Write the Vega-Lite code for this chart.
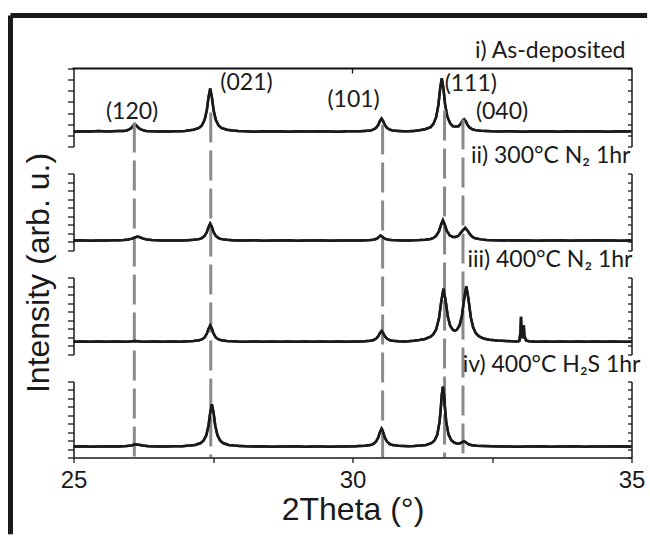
{
  "$schema": "https://vega.github.io/schema/vega-lite/v6.json",
  "background": "white",
  "padding": {"left": 7.5, "top": 12.5, "right": 0, "bottom": 0},
  "bounds": "flush",
  "spacing": 27,
  "config": {
    "view": {"stroke": null},
    "axis": {"domainColor": "#1a1a1a", "tickColor": "#1a1a1a", "domainWidth": 1.5, "tickWidth": 1.3, "grid": false, "labelFont": "Liberation Sans", "titleFont": "Liberation Sans", "labelColor": "#1a1a1a", "titleColor": "#1a1a1a", "titleFontWeight": "normal"}
  },
  "datasets": {
    "p1": [
      {"t":25.0,"v":1.33},{"t":25.15,"v":1.37},{"t":25.3,"v":1.34},{"t":25.45,"v":1.38},{"t":25.6,"v":1.35},{"t":25.7,"v":1.36},{"t":25.8,"v":1.38},{"t":25.9,"v":1.40},{"t":25.95,"v":1.44},{"t":26.0,"v":1.53},{"t":26.04,"v":1.68},{"t":26.07,"v":1.87},{"t":26.1,"v":2.0},{"t":26.13,"v":1.87},{"t":26.16,"v":1.70},{"t":26.2,"v":1.55},{"t":26.25,"v":1.45},{"t":26.3,"v":1.40},{"t":26.4,"v":1.37},{"t":26.5,"v":1.35},{"t":26.6,"v":1.37},{"t":26.7,"v":1.34},{"t":26.8,"v":1.37},{"t":26.9,"v":1.36},{"t":27.0,"v":1.40},
      {"t":27.05,"v":1.43},{"t":27.15,"v":1.50},{"t":27.25,"v":1.66},{"t":27.3,"v":1.89},{"t":27.35,"v":2.39},{"t":27.39,"v":3.28},{"t":27.42,"v":4.43},{"t":27.45,"v":5.2},{"t":27.48,"v":4.43},{"t":27.51,"v":3.28},{"t":27.55,"v":2.39},{"t":27.6,"v":1.89},{"t":27.65,"v":1.66},{"t":27.75,"v":1.50},{"t":27.85,"v":1.43},{"t":27.95,"v":1.39},
      {"t":28.1,"v":1.36},{"t":28.25,"v":1.33},{"t":28.4,"v":1.37},{"t":28.55,"v":1.34},{"t":28.7,"v":1.36},{"t":28.85,"v":1.33},{"t":29.0,"v":1.37},{"t":29.15,"v":1.35},{"t":29.3,"v":1.34},{"t":29.45,"v":1.37},{"t":29.6,"v":1.35},{"t":29.75,"v":1.33},{"t":29.9,"v":1.37},{"t":30.05,"v":1.36},
      {"t":30.12,"v":1.37},{"t":30.22,"v":1.40},{"t":30.32,"v":1.44},{"t":30.37,"v":1.51},{"t":30.42,"v":1.66},{"t":30.46,"v":1.93},{"t":30.49,"v":2.27},{"t":30.52,"v":2.5},{"t":30.55,"v":2.27},{"t":30.58,"v":1.93},{"t":30.62,"v":1.66},{"t":30.67,"v":1.51},{"t":30.72,"v":1.44},{"t":30.82,"v":1.40},{"t":30.92,"v":1.37},
      {"t":31.0,"v":1.36},{"t":31.1,"v":1.40},{"t":31.2,"v":1.45},{"t":31.3,"v":1.55},{"t":31.4,"v":1.74},{"t":31.45,"v":2.03},{"t":31.5,"v":2.65},{"t":31.54,"v":3.75},{"t":31.57,"v":5.17},{"t":31.6,"v":6.12},{"t":31.63,"v":5.18},{"t":31.66,"v":3.76},{"t":31.7,"v":2.67},{"t":31.75,"v":2.08},{"t":31.8,"v":1.81},{"t":31.85,"v":1.79},{"t":31.9,"v":1.82},{"t":31.94,"v":2.03},{"t":31.97,"v":2.31},{"t":32.0,"v":2.45},{"t":32.03,"v":2.27},{"t":32.06,"v":1.95},{"t":32.1,"v":1.69},{"t":32.15,"v":1.55},{"t":32.2,"v":1.47},{"t":32.3,"v":1.42},{"t":32.4,"v":1.39},
      {"t":32.5,"v":1.36},{"t":32.65,"v":1.34},{"t":32.8,"v":1.37},{"t":32.95,"v":1.35},{"t":33.1,"v":1.33},{"t":33.25,"v":1.37},{"t":33.4,"v":1.34},{"t":33.55,"v":1.36},{"t":33.7,"v":1.33},{"t":33.85,"v":1.37},{"t":34.0,"v":1.35},{"t":34.15,"v":1.34},{"t":34.3,"v":1.37},{"t":34.45,"v":1.35},{"t":34.6,"v":1.33},{"t":34.75,"v":1.36},{"t":34.9,"v":1.34},{"t":35.0,"v":1.36}
    ],
    "p2": [
      {"t":25.0,"v":1.16},{"t":25.15,"v":1.19},{"t":25.3,"v":1.15},{"t":25.45,"v":1.18},{"t":25.6,"v":1.17},{"t":25.7,"v":1.19},{"t":25.8,"v":1.20},{"t":25.9,"v":1.23},{"t":25.98,"v":1.28},{"t":26.05,"v":1.39},{"t":26.1,"v":1.52},{"t":26.15,"v":1.62},{"t":26.2,"v":1.52},{"t":26.25,"v":1.39},{"t":26.32,"v":1.28},{"t":26.4,"v":1.22},{"t":26.5,"v":1.19},{"t":26.6,"v":1.16},{"t":26.75,"v":1.18},{"t":26.9,"v":1.17},
      {"t":27.05,"v":1.21},{"t":27.15,"v":1.25},{"t":27.25,"v":1.33},{"t":27.3,"v":1.45},{"t":27.35,"v":1.70},{"t":27.39,"v":2.16},{"t":27.42,"v":2.75},{"t":27.45,"v":3.15},{"t":27.48,"v":2.75},{"t":27.51,"v":2.16},{"t":27.55,"v":1.70},{"t":27.6,"v":1.45},{"t":27.65,"v":1.33},{"t":27.75,"v":1.25},{"t":27.85,"v":1.21},{"t":27.95,"v":1.18},
      {"t":28.1,"v":1.16},{"t":28.25,"v":1.19},{"t":28.4,"v":1.15},{"t":28.55,"v":1.18},{"t":28.7,"v":1.16},{"t":28.85,"v":1.19},{"t":29.0,"v":1.15},{"t":29.15,"v":1.18},{"t":29.3,"v":1.16},{"t":29.45,"v":1.19},{"t":29.6,"v":1.15},{"t":29.75,"v":1.18},{"t":29.9,"v":1.16},{"t":30.05,"v":1.18},
      {"t":30.15,"v":1.18},{"t":30.25,"v":1.20},{"t":30.32,"v":1.22},{"t":30.37,"v":1.26},{"t":30.42,"v":1.34},{"t":30.45,"v":1.44},{"t":30.48,"v":1.62},{"t":30.5,"v":1.75},{"t":30.53,"v":1.63},{"t":30.56,"v":1.46},{"t":30.6,"v":1.33},{"t":30.65,"v":1.25},{"t":30.7,"v":1.22},{"t":30.8,"v":1.19},{"t":30.9,"v":1.17},
      {"t":31.0,"v":1.18},{"t":31.1,"v":1.19},{"t":31.2,"v":1.22},{"t":31.3,"v":1.27},{"t":31.4,"v":1.35},{"t":31.45,"v":1.47},{"t":31.5,"v":1.71},{"t":31.55,"v":2.25},{"t":31.59,"v":3.07},{"t":31.62,"v":3.55},{"t":31.65,"v":3.09},{"t":31.69,"v":2.30},{"t":31.74,"v":1.78},{"t":31.8,"v":1.57},{"t":31.85,"v":1.58},{"t":31.9,"v":1.72},{"t":31.95,"v":2.15},{"t":31.98,"v":2.38},{"t":32.02,"v":2.65},{"t":32.06,"v":2.35},{"t":32.1,"v":1.93},{"t":32.15,"v":1.59},{"t":32.2,"v":1.43},{"t":32.3,"v":1.30},{"t":32.4,"v":1.24},{"t":32.55,"v":1.20},
      {"t":32.7,"v":1.17},{"t":32.85,"v":1.19},{"t":33.0,"v":1.16},{"t":33.15,"v":1.18},{"t":33.3,"v":1.15},{"t":33.45,"v":1.18},{"t":33.6,"v":1.17},{"t":33.75,"v":1.19},{"t":33.9,"v":1.15},{"t":34.05,"v":1.18},{"t":34.2,"v":1.16},{"t":34.35,"v":1.19},{"t":34.5,"v":1.16},{"t":34.65,"v":1.18},{"t":34.8,"v":1.15},{"t":34.95,"v":1.17},{"t":35.0,"v":1.16}
    ],
    "p3": [
      {"t":25.0,"v":1.49},{"t":25.15,"v":1.52},{"t":25.3,"v":1.48},{"t":25.45,"v":1.51},{"t":25.6,"v":1.50},{"t":25.75,"v":1.52},{"t":25.9,"v":1.49},{"t":26.0,"v":1.52},{"t":26.1,"v":1.58},{"t":26.2,"v":1.53},{"t":26.3,"v":1.50},{"t":26.45,"v":1.52},{"t":26.6,"v":1.49},{"t":26.75,"v":1.51},{"t":26.9,"v":1.50},
      {"t":27.05,"v":1.54},{"t":27.15,"v":1.57},{"t":27.25,"v":1.66},{"t":27.3,"v":1.76},{"t":27.35,"v":2.0},{"t":27.39,"v":2.45},{"t":27.42,"v":3.02},{"t":27.45,"v":3.4},{"t":27.48,"v":3.02},{"t":27.51,"v":2.45},{"t":27.55,"v":2.0},{"t":27.6,"v":1.76},{"t":27.65,"v":1.66},{"t":27.75,"v":1.57},{"t":27.85,"v":1.54},{"t":27.95,"v":1.51},
      {"t":28.1,"v":1.49},{"t":28.25,"v":1.52},{"t":28.4,"v":1.48},{"t":28.55,"v":1.51},{"t":28.7,"v":1.50},{"t":28.85,"v":1.52},{"t":29.0,"v":1.48},{"t":29.15,"v":1.51},{"t":29.3,"v":1.49},{"t":29.45,"v":1.52},{"t":29.6,"v":1.48},{"t":29.75,"v":1.51},{"t":29.9,"v":1.50},{"t":30.05,"v":1.52},
      {"t":30.12,"v":1.53},{"t":30.22,"v":1.55},{"t":30.32,"v":1.60},{"t":30.37,"v":1.67},{"t":30.42,"v":1.83},{"t":30.46,"v":2.13},{"t":30.49,"v":2.50},{"t":30.52,"v":2.75},{"t":30.55,"v":2.50},{"t":30.58,"v":2.13},{"t":30.62,"v":1.83},{"t":30.67,"v":1.67},{"t":30.72,"v":1.60},{"t":30.82,"v":1.55},{"t":30.92,"v":1.53},
      {"t":31.0,"v":1.55},{"t":31.1,"v":1.60},{"t":31.2,"v":1.70},{"t":31.3,"v":1.82},{"t":31.4,"v":2.09},{"t":31.45,"v":2.38},{"t":31.5,"v":2.95},{"t":31.55,"v":4.23},{"t":31.59,"v":6.17},{"t":31.63,"v":7.68},{"t":31.67,"v":6.24},{"t":31.71,"v":4.37},{"t":31.75,"v":3.37},{"t":31.8,"v":2.86},{"t":31.835,"v":2.78},{"t":31.87,"v":2.88},{"t":31.92,"v":3.43},{"t":31.96,"v":4.49},{"t":32.0,"v":6.46},{"t":32.04,"v":7.97},{"t":32.08,"v":6.39},{"t":32.12,"v":4.35},{"t":32.16,"v":3.20},{"t":32.21,"v":2.49},{"t":32.27,"v":2.11},{"t":32.35,"v":1.86},{"t":32.45,"v":1.72},{"t":32.6,"v":1.63},{"t":32.75,"v":1.58},{"t":32.85,"v":1.54},
      {"t":32.95,"v":1.52},{"t":32.99,"v":1.58},{"t":33.01,"v":2.6},{"t":33.02,"v":4.4},{"t":33.03,"v":2.4},{"t":33.05,"v":1.9},{"t":33.07,"v":3.4},{"t":33.08,"v":2.2},{"t":33.11,"v":1.65},{"t":33.16,"v":1.55},
      {"t":33.3,"v":1.50},{"t":33.45,"v":1.52},{"t":33.6,"v":1.48},{"t":33.75,"v":1.51},{"t":33.9,"v":1.50},{"t":34.05,"v":1.52},{"t":34.2,"v":1.48},{"t":34.35,"v":1.51},{"t":34.5,"v":1.49},{"t":34.65,"v":1.52},{"t":34.8,"v":1.50},{"t":34.95,"v":1.49},{"t":35.0,"v":1.51}
    ],
    "p4": [
      {"t":25.0,"v":1.29},{"t":25.15,"v":1.32},{"t":25.3,"v":1.28},{"t":25.45,"v":1.31},{"t":25.6,"v":1.30},{"t":25.7,"v":1.32},{"t":25.8,"v":1.31},{"t":25.95,"v":1.35},{"t":26.03,"v":1.43},{"t":26.08,"v":1.51},{"t":26.12,"v":1.55},{"t":26.17,"v":1.50},{"t":26.24,"v":1.41},{"t":26.35,"v":1.34},{"t":26.5,"v":1.31},{"t":26.65,"v":1.29},{"t":26.8,"v":1.32},{"t":26.95,"v":1.33},
      {"t":27.08,"v":1.41},{"t":27.18,"v":1.49},{"t":27.28,"v":1.71},{"t":27.33,"v":1.99},{"t":27.38,"v":2.62},{"t":27.42,"v":3.8},{"t":27.45,"v":5.3},{"t":27.48,"v":6.3},{"t":27.51,"v":5.3},{"t":27.54,"v":3.8},{"t":27.58,"v":2.62},{"t":27.63,"v":1.99},{"t":27.68,"v":1.71},{"t":27.78,"v":1.49},{"t":27.88,"v":1.41},{"t":27.98,"v":1.37},
      {"t":28.1,"v":1.32},{"t":28.25,"v":1.29},{"t":28.4,"v":1.32},{"t":28.55,"v":1.28},{"t":28.7,"v":1.31},{"t":28.85,"v":1.29},{"t":29.0,"v":1.32},{"t":29.15,"v":1.28},{"t":29.3,"v":1.31},{"t":29.45,"v":1.30},{"t":29.6,"v":1.28},{"t":29.75,"v":1.31},{"t":29.9,"v":1.29},{"t":30.05,"v":1.32},
      {"t":30.12,"v":1.35},{"t":30.22,"v":1.38},{"t":30.32,"v":1.47},{"t":30.37,"v":1.59},{"t":30.42,"v":1.86},{"t":30.46,"v":2.35},{"t":30.49,"v":2.98},{"t":30.52,"v":3.40},{"t":30.55,"v":2.98},{"t":30.58,"v":2.35},{"t":30.62,"v":1.86},{"t":30.67,"v":1.59},{"t":30.72,"v":1.47},{"t":30.82,"v":1.38},{"t":30.92,"v":1.35},
      {"t":31.0,"v":1.32},{"t":31.1,"v":1.35},{"t":31.22,"v":1.41},{"t":31.32,"v":1.49},{"t":31.42,"v":1.72},{"t":31.47,"v":2.01},{"t":31.52,"v":2.72},{"t":31.56,"v":4.21},{"t":31.58,"v":5.63},{"t":31.6,"v":7.42},{"t":31.62,"v":8.4},{"t":31.64,"v":7.42},{"t":31.66,"v":5.63},{"t":31.68,"v":4.21},{"t":31.72,"v":2.74},{"t":31.77,"v":2.04},{"t":31.82,"v":1.77},{"t":31.87,"v":1.66},{"t":31.92,"v":1.67},{"t":31.96,"v":1.80},{"t":32.0,"v":1.92},{"t":32.04,"v":1.75},{"t":32.08,"v":1.56},{"t":32.14,"v":1.46},{"t":32.22,"v":1.39},{"t":32.35,"v":1.35},
      {"t":32.5,"v":1.32},{"t":32.65,"v":1.29},{"t":32.8,"v":1.31},{"t":32.95,"v":1.28},{"t":33.1,"v":1.31},{"t":33.25,"v":1.30},{"t":33.4,"v":1.32},{"t":33.55,"v":1.28},{"t":33.7,"v":1.31},{"t":33.85,"v":1.29},{"t":34.0,"v":1.32},{"t":34.15,"v":1.28},{"t":34.3,"v":1.30},{"t":34.45,"v":1.31},{"t":34.6,"v":1.29},{"t":34.75,"v":1.32},{"t":34.9,"v":1.30},{"t":35.0,"v":1.31}
    ],
    "peaks": [
      {"hkl":"(120)","t":26.09,"top":2.15,"lt":26.05,"ly":3.1},
      {"hkl":"(021)","t":27.46,"top":3.05,"lt":28.1,"ly":5.74},
      {"hkl":"(101)","t":30.54,"top":1.97,"lt":30.02,"ly":4.13},
      {"hkl":"(111)","t":31.65,"top":3.23,"lt":32.12,"ly":5.65},
      {"hkl":"(040)","t":31.98,"top":2.42,"lt":32.68,"ly":3.1}
    ]
  },
  "vconcat": [
    {
      "width": 558, "height": 78,
      "layer": [
        {
          "data": {"name": "p1"},
          "mark": {"type": "line", "color": "#1a1a1a", "strokeWidth": 2.5},
          "encoding": {
            "x": {"field": "t", "type": "quantitative", "scale": {"domain": [25, 35], "nice": false}, "axis": null},
            "y": {"field": "v", "type": "quantitative", "scale": {"domain": [0, 7], "nice": false},
                  "axis": {"orient": "left", "values": [0, 1, 2, 3, 4, 5, 6, 7], "tickSize": 6, "labels": false, "title": null}}
          }
        },
        {
          "data": {"name": "p1"},
          "mark": {"type": "line", "color": "#1a1a1a", "strokeWidth": 2.5},
          "encoding": {
            "x": {"field": "t", "type": "quantitative", "scale": {"domain": [25, 35], "nice": false}, "axis": null},
            "y": {"field": "v", "type": "quantitative", "scale": {"domain": [0, 7], "nice": false},
                  "axis": {"orient": "right", "values": [0, 1, 2, 3, 4, 5, 6, 7], "tickSize": -4, "labels": false, "title": null}}
          }
        },
        {
          "data": {"values": [{}]},
          "mark": {"type": "rule", "color": "#1a1a1a", "strokeWidth": 5, "strokeCap": "butt"},
          "encoding": {
            "x": {"datum": 23.871, "type": "quantitative", "scale": {"domain": [25, 35], "nice": false}, "axis": null},
            "x2": {"datum": 35.28},
            "y": {"datum": 11.756, "type": "quantitative", "scale": {"domain": [0, 7], "nice": false}, "axis": null}
          }
        },
        {
          "data": {"values": [{}]},
          "mark": {"type": "rule", "color": "#1a1a1a", "strokeWidth": 5, "strokeCap": "butt"},
          "encoding": {
            "x": {"datum": 23.871, "type": "quantitative", "scale": {"domain": [25, 35], "nice": false}, "axis": null},
            "y": {"datum": 11.756, "type": "quantitative", "scale": {"domain": [0, 7], "nice": false}, "axis": null},
            "y2": {"datum": -34.8}
          }
        },
        {
          "data": {"name": "peaks"},
          "mark": {"type": "rule", "color": "#8a8a8a", "strokeWidth": 3, "strokeDash": [30, 8]},
          "encoding": {
            "x": {"field": "t", "type": "quantitative", "scale": {"domain": [25, 35], "nice": false}, "axis": null},
            "y": {"field": "top", "type": "quantitative", "scale": {"domain": [0, 7], "nice": false}, "axis": null},
            "y2": {"datum": -27.91}
          }
        },
        {
          "data": {"name": "peaks"},
          "mark": {"type": "text", "font": "Lato", "fontSize": 23, "color": "#1a1a1a", "baseline": "middle", "align": "center"},
          "encoding": {
            "x": {"field": "lt", "type": "quantitative", "scale": {"domain": [25, 35], "nice": false}, "axis": null},
            "y": {"field": "ly", "type": "quantitative", "scale": {"domain": [0, 7], "nice": false}, "axis": null},
            "text": {"field": "hkl"}
          }
        },
        {
          "data": {"values": [{"label": "i) As-deposited"}]},
          "mark": {"type": "text", "font": "Lato", "fontSize": 23, "color": "#1a1a1a", "baseline": "alphabetic", "align": "right", "dx": -6},
          "encoding": {
            "x": {"datum": 35, "type": "quantitative", "scale": {"domain": [25, 35], "nice": false}, "axis": null},
            "y": {"datum": 7.9, "type": "quantitative", "scale": {"domain": [0, 7], "nice": false}, "axis": null},
            "text": {"field": "label"}
          }
        },
        {
          "data": {"values": [{"edge": "top"}]},
          "mark": {"type": "rule", "color": "#111111", "strokeWidth": 2, "strokeCap": "square"},
          "encoding": {
            "x": {"datum": 25, "type": "quantitative", "scale": {"domain": [25, 35], "nice": false}, "axis": null},
            "x2": {"datum": 35},
            "y": {"datum": 6.99, "type": "quantitative", "scale": {"domain": [0, 7], "nice": false}, "axis": null}
          }
        },
        {
          "data": {"values": [{"edge": "tick"}]},
          "mark": {"type": "rule", "color": "#111111", "strokeWidth": 1.3},
          "encoding": {
            "x": {"datum": 30, "type": "quantitative", "scale": {"domain": [25, 35], "nice": false}, "axis": null},
            "y": {"datum": 6.99, "type": "quantitative", "scale": {"domain": [0, 7], "nice": false}, "axis": null},
            "y2": {"datum": 6.55}
          }
        }
      ],
      "resolve": {"axis": {"y": "independent"}}
    },
    {
      "width": 558, "height": 77,
      "layer": [
        {
          "data": {"name": "p2"},
          "mark": {"type": "line", "color": "#1a1a1a", "strokeWidth": 2.5},
          "encoding": {
            "x": {"field": "t", "type": "quantitative", "scale": {"domain": [25, 35], "nice": false}, "axis": null},
            "y": {"field": "v", "type": "quantitative", "scale": {"domain": [0, 9], "nice": false},
                  "axis": {"orient": "left", "values": [0, 1, 2, 3, 4, 5, 6, 7, 8, 9], "tickSize": 6, "labels": false,
                           "title": "Intensity (arb. u.)", "titleFontSize": 32, "titleX": -35, "titleY": 99, "titleAngle": -90, "titleAlign": "center", "titleBaseline": "middle"}}
          }
        },
        {
          "data": {"name": "p2"},
          "mark": {"type": "line", "color": "#1a1a1a", "strokeWidth": 2.5},
          "encoding": {
            "x": {"field": "t", "type": "quantitative", "scale": {"domain": [25, 35], "nice": false}, "axis": null},
            "y": {"field": "v", "type": "quantitative", "scale": {"domain": [0, 9], "nice": false},
                  "axis": {"orient": "right", "values": [0, 1, 2, 3, 4, 5, 6, 7, 8, 9], "tickSize": -4, "labels": false, "title": null}}
          }
        },
        {
          "data": {"values": [{"label": "ii) 300°C N₂ 1hr"}]},
          "mark": {"type": "text", "font": "Lato", "fontSize": 23, "color": "#1a1a1a", "baseline": "alphabetic", "align": "right", "dx": -1},
          "encoding": {
            "x": {"datum": 35, "type": "quantitative", "scale": {"domain": [25, 35], "nice": false}, "axis": null},
            "y": {"datum": 10.17, "type": "quantitative", "scale": {"domain": [0, 9], "nice": false}, "axis": null},
            "text": {"field": "label"}
          }
        }
      ],
      "resolve": {"axis": {"y": "independent"}}
    },
    {
      "width": 558, "height": 77,
      "layer": [
        {
          "data": {"name": "p3"},
          "mark": {"type": "line", "color": "#1a1a1a", "strokeWidth": 2.5},
          "encoding": {
            "x": {"field": "t", "type": "quantitative", "scale": {"domain": [25, 35], "nice": false}, "axis": null},
            "y": {"field": "v", "type": "quantitative", "scale": {"domain": [0, 9], "nice": false},
                  "axis": {"orient": "left", "values": [0, 1, 2, 3, 4, 5, 6, 7, 8, 9], "tickSize": 6, "labels": false, "title": null}}
          }
        },
        {
          "data": {"name": "p3"},
          "mark": {"type": "line", "color": "#1a1a1a", "strokeWidth": 2.5},
          "encoding": {
            "x": {"field": "t", "type": "quantitative", "scale": {"domain": [25, 35], "nice": false}, "axis": null},
            "y": {"field": "v", "type": "quantitative", "scale": {"domain": [0, 9], "nice": false},
                  "axis": {"orient": "right", "values": [0, 1, 2, 3, 4, 5, 6, 7, 8, 9], "tickSize": -4, "labels": false, "title": null}}
          }
        },
        {
          "data": {"values": [{"label": "iii) 400°C N₂ 1hr"}]},
          "mark": {"type": "text", "font": "Lato", "fontSize": 23, "color": "#1a1a1a", "baseline": "alphabetic", "align": "right", "dx": 1},
          "encoding": {
            "x": {"datum": 35, "type": "quantitative", "scale": {"domain": [25, 35], "nice": false}, "axis": null},
            "y": {"datum": 10.17, "type": "quantitative", "scale": {"domain": [0, 9], "nice": false}, "axis": null},
            "text": {"field": "label"}
          }
        }
      ],
      "resolve": {"axis": {"y": "independent"}}
    },
    {
      "width": 558, "height": 76,
      "layer": [
        {
          "data": {"name": "p4"},
          "mark": {"type": "line", "color": "#1a1a1a", "strokeWidth": 2.5},
          "encoding": {
            "x": {"field": "t", "type": "quantitative", "scale": {"domain": [25, 35], "nice": false},
                  "axis": {"orient": "bottom", "values": [25, 27.5, 30, 32.5, 35], "format": "d", "tickSize": 5,
                           "labelExpr": "datum.value % 5 === 0 ? datum.label : ''", "labelFontSize": 24, "labelPadding": 6, "labelFlush": false, "labelOverlap": false,
                           "title": "2Theta (°)", "titleFontSize": 32, "titleY": 62, "titleBaseline": "alphabetic"}},
            "y": {"field": "v", "type": "quantitative", "scale": {"domain": [0, 9], "nice": false},
                  "axis": {"orient": "left", "values": [0, 1, 2, 3, 4, 5, 6, 7, 8, 9], "tickSize": 6, "labels": false, "title": null}}
          }
        },
        {
          "data": {"name": "p4"},
          "mark": {"type": "line", "color": "#1a1a1a", "strokeWidth": 2.5},
          "encoding": {
            "x": {"field": "t", "type": "quantitative", "scale": {"domain": [25, 35], "nice": false}},
            "y": {"field": "v", "type": "quantitative", "scale": {"domain": [0, 9], "nice": false},
                  "axis": {"orient": "right", "values": [0, 1, 2, 3, 4, 5, 6, 7, 8, 9], "tickSize": -4, "labels": false, "title": null}}
          }
        },
        {
          "data": {"values": [{"label": "iv) 400°C H₂S 1hr"}]},
          "mark": {"type": "text", "font": "Lato", "fontSize": 23, "color": "#1a1a1a", "baseline": "alphabetic", "align": "right", "dx": 9},
          "encoding": {
            "x": {"datum": 35, "type": "quantitative", "scale": {"domain": [25, 35], "nice": false}},
            "y": {"datum": 10.18, "type": "quantitative", "scale": {"domain": [0, 9], "nice": false}, "axis": null},
            "text": {"field": "label"}
          }
        }
      ],
      "resolve": {"axis": {"y": "independent"}}
    }
  ]
}
